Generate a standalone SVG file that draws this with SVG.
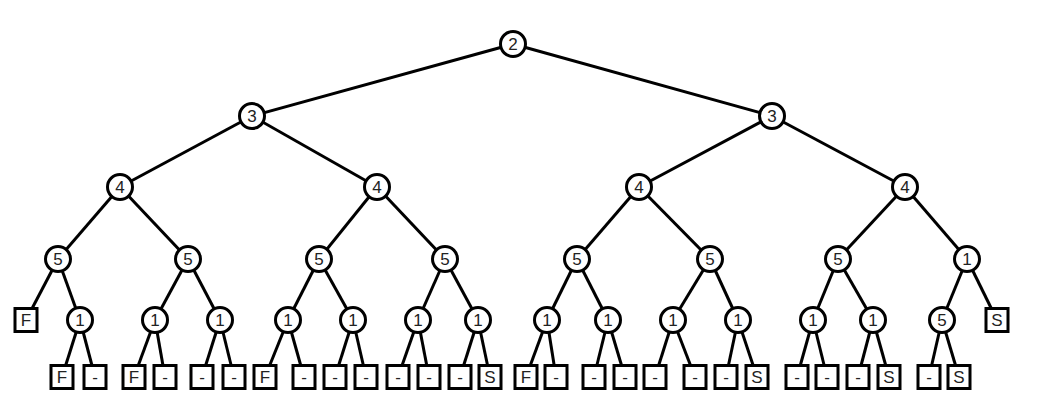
<svg xmlns="http://www.w3.org/2000/svg" width="1039" height="402" viewBox="0 0 1039 402">
<style>
.e{stroke:#000;stroke-width:3;fill:none}
.c{fill:#fff;stroke:#000;stroke-width:3}
.b{fill:#fff;stroke:#000;stroke-width:3}
text{font-family:"Liberation Sans",Arial,sans-serif;font-size:17px;fill:#222;text-anchor:middle;dominant-baseline:central}
</style>
<defs>
<circle id="cc" r="12.5" class="c"/>
<rect id="bb" x="-11" y="-11.5" width="22" height="23" class="b"/>
</defs>
<g id="connectors">
<line class="e" x1="513" y1="44" x2="252" y2="116"/>
<line class="e" x1="513" y1="44" x2="772" y2="116"/>
<line class="e" x1="252" y1="116" x2="120" y2="187"/>
<line class="e" x1="252" y1="116" x2="377" y2="187"/>
<line class="e" x1="772" y1="116" x2="639" y2="187"/>
<line class="e" x1="772" y1="116" x2="905" y2="187"/>
<line class="e" x1="120" y1="187" x2="58" y2="259"/>
<line class="e" x1="120" y1="187" x2="188" y2="259"/>
<line class="e" x1="377" y1="187" x2="319" y2="259"/>
<line class="e" x1="377" y1="187" x2="445" y2="259"/>
<line class="e" x1="639" y1="187" x2="577" y2="259"/>
<line class="e" x1="639" y1="187" x2="710" y2="259"/>
<line class="e" x1="905" y1="187" x2="838" y2="259"/>
<line class="e" x1="905" y1="187" x2="967" y2="259"/>
<line class="e" x1="58" y1="259" x2="26" y2="320"/>
<line class="e" x1="58" y1="259" x2="80" y2="320"/>
<line class="e" x1="188" y1="259" x2="155" y2="320"/>
<line class="e" x1="188" y1="259" x2="220" y2="320"/>
<line class="e" x1="319" y1="259" x2="288" y2="320"/>
<line class="e" x1="319" y1="259" x2="353" y2="320"/>
<line class="e" x1="445" y1="259" x2="418" y2="320"/>
<line class="e" x1="445" y1="259" x2="478" y2="320"/>
<line class="e" x1="577" y1="259" x2="547" y2="320"/>
<line class="e" x1="577" y1="259" x2="608" y2="320"/>
<line class="e" x1="710" y1="259" x2="673" y2="320"/>
<line class="e" x1="710" y1="259" x2="738" y2="320"/>
<line class="e" x1="838" y1="259" x2="813" y2="320"/>
<line class="e" x1="838" y1="259" x2="873" y2="320"/>
<line class="e" x1="967" y1="259" x2="942" y2="320"/>
<line class="e" x1="967" y1="259" x2="997" y2="320"/>
<line class="e" x1="80" y1="320" x2="62" y2="377"/>
<line class="e" x1="80" y1="320" x2="95" y2="377"/>
<line class="e" x1="155" y1="320" x2="134" y2="377"/>
<line class="e" x1="155" y1="320" x2="165" y2="377"/>
<line class="e" x1="220" y1="320" x2="202" y2="377"/>
<line class="e" x1="220" y1="320" x2="234" y2="377"/>
<line class="e" x1="288" y1="320" x2="265" y2="377"/>
<line class="e" x1="288" y1="320" x2="304" y2="377"/>
<line class="e" x1="353" y1="320" x2="335" y2="377"/>
<line class="e" x1="353" y1="320" x2="366" y2="377"/>
<line class="e" x1="418" y1="320" x2="398" y2="377"/>
<line class="e" x1="418" y1="320" x2="429" y2="377"/>
<line class="e" x1="478" y1="320" x2="460" y2="377"/>
<line class="e" x1="478" y1="320" x2="490" y2="377"/>
<line class="e" x1="547" y1="320" x2="526" y2="377"/>
<line class="e" x1="547" y1="320" x2="556" y2="377"/>
<line class="e" x1="608" y1="320" x2="594" y2="377"/>
<line class="e" x1="608" y1="320" x2="625" y2="377"/>
<line class="e" x1="673" y1="320" x2="655" y2="377"/>
<line class="e" x1="673" y1="320" x2="695" y2="377"/>
<line class="e" x1="738" y1="320" x2="726" y2="377"/>
<line class="e" x1="738" y1="320" x2="757" y2="377"/>
<line class="e" x1="813" y1="320" x2="797" y2="377"/>
<line class="e" x1="813" y1="320" x2="827" y2="377"/>
<line class="e" x1="873" y1="320" x2="858" y2="377"/>
<line class="e" x1="873" y1="320" x2="889" y2="377"/>
<line class="e" x1="942" y1="320" x2="929" y2="377"/>
<line class="e" x1="942" y1="320" x2="959" y2="377"/>
</g>
<g id="n0" transform="translate(513,44)"><use href="#cc"/><text>2</text></g>
<g id="n1" transform="translate(252,116)"><use href="#cc"/><text>3</text></g>
<g id="n2" transform="translate(772,116)"><use href="#cc"/><text>3</text></g>
<g id="n3" transform="translate(120,187)"><use href="#cc"/><text>4</text></g>
<g id="n4" transform="translate(377,187)"><use href="#cc"/><text>4</text></g>
<g id="n5" transform="translate(639,187)"><use href="#cc"/><text>4</text></g>
<g id="n6" transform="translate(905,187)"><use href="#cc"/><text>4</text></g>
<g id="n7" transform="translate(58,259)"><use href="#cc"/><text>5</text></g>
<g id="n8" transform="translate(188,259)"><use href="#cc"/><text>5</text></g>
<g id="n9" transform="translate(319,259)"><use href="#cc"/><text>5</text></g>
<g id="n10" transform="translate(445,259)"><use href="#cc"/><text>5</text></g>
<g id="n11" transform="translate(577,259)"><use href="#cc"/><text>5</text></g>
<g id="n12" transform="translate(710,259)"><use href="#cc"/><text>5</text></g>
<g id="n13" transform="translate(838,259)"><use href="#cc"/><text>5</text></g>
<g id="n14" transform="translate(967,259)"><use href="#cc"/><text>1</text></g>
<g id="n15" transform="translate(26,320)"><use href="#bb"/><text>F</text></g>
<g id="n16" transform="translate(80,320)"><use href="#cc"/><text>1</text></g>
<g id="n17" transform="translate(155,320)"><use href="#cc"/><text>1</text></g>
<g id="n18" transform="translate(220,320)"><use href="#cc"/><text>1</text></g>
<g id="n19" transform="translate(288,320)"><use href="#cc"/><text>1</text></g>
<g id="n20" transform="translate(353,320)"><use href="#cc"/><text>1</text></g>
<g id="n21" transform="translate(418,320)"><use href="#cc"/><text>1</text></g>
<g id="n22" transform="translate(478,320)"><use href="#cc"/><text>1</text></g>
<g id="n23" transform="translate(547,320)"><use href="#cc"/><text>1</text></g>
<g id="n24" transform="translate(608,320)"><use href="#cc"/><text>1</text></g>
<g id="n25" transform="translate(673,320)"><use href="#cc"/><text>1</text></g>
<g id="n26" transform="translate(738,320)"><use href="#cc"/><text>1</text></g>
<g id="n27" transform="translate(813,320)"><use href="#cc"/><text>1</text></g>
<g id="n28" transform="translate(873,320)"><use href="#cc"/><text>1</text></g>
<g id="n29" transform="translate(942,320)"><use href="#cc"/><text>5</text></g>
<g id="n30" transform="translate(997,320)"><use href="#bb"/><text>S</text></g>
<g id="n31" transform="translate(62,377)"><use href="#bb"/><text>F</text></g>
<g id="n32" transform="translate(95,377)"><use href="#bb"/><text>-</text></g>
<g id="n33" transform="translate(134,377)"><use href="#bb"/><text>F</text></g>
<g id="n34" transform="translate(165,377)"><use href="#bb"/><text>-</text></g>
<g id="n35" transform="translate(202,377)"><use href="#bb"/><text>-</text></g>
<g id="n36" transform="translate(234,377)"><use href="#bb"/><text>-</text></g>
<g id="n37" transform="translate(265,377)"><use href="#bb"/><text>F</text></g>
<g id="n38" transform="translate(304,377)"><use href="#bb"/><text>-</text></g>
<g id="n39" transform="translate(335,377)"><use href="#bb"/><text>-</text></g>
<g id="n40" transform="translate(366,377)"><use href="#bb"/><text>-</text></g>
<g id="n41" transform="translate(398,377)"><use href="#bb"/><text>-</text></g>
<g id="n42" transform="translate(429,377)"><use href="#bb"/><text>-</text></g>
<g id="n43" transform="translate(460,377)"><use href="#bb"/><text>-</text></g>
<g id="n44" transform="translate(490,377)"><use href="#bb"/><text>S</text></g>
<g id="n45" transform="translate(526,377)"><use href="#bb"/><text>F</text></g>
<g id="n46" transform="translate(556,377)"><use href="#bb"/><text>-</text></g>
<g id="n47" transform="translate(594,377)"><use href="#bb"/><text>-</text></g>
<g id="n48" transform="translate(625,377)"><use href="#bb"/><text>-</text></g>
<g id="n49" transform="translate(655,377)"><use href="#bb"/><text>-</text></g>
<g id="n50" transform="translate(695,377)"><use href="#bb"/><text>-</text></g>
<g id="n51" transform="translate(726,377)"><use href="#bb"/><text>-</text></g>
<g id="n52" transform="translate(757,377)"><use href="#bb"/><text>S</text></g>
<g id="n53" transform="translate(797,377)"><use href="#bb"/><text>-</text></g>
<g id="n54" transform="translate(827,377)"><use href="#bb"/><text>-</text></g>
<g id="n55" transform="translate(858,377)"><use href="#bb"/><text>-</text></g>
<g id="n56" transform="translate(889,377)"><use href="#bb"/><text>S</text></g>
<g id="n57" transform="translate(929,377)"><use href="#bb"/><text>-</text></g>
<g id="n58" transform="translate(959,377)"><use href="#bb"/><text>S</text></g>
</svg>
